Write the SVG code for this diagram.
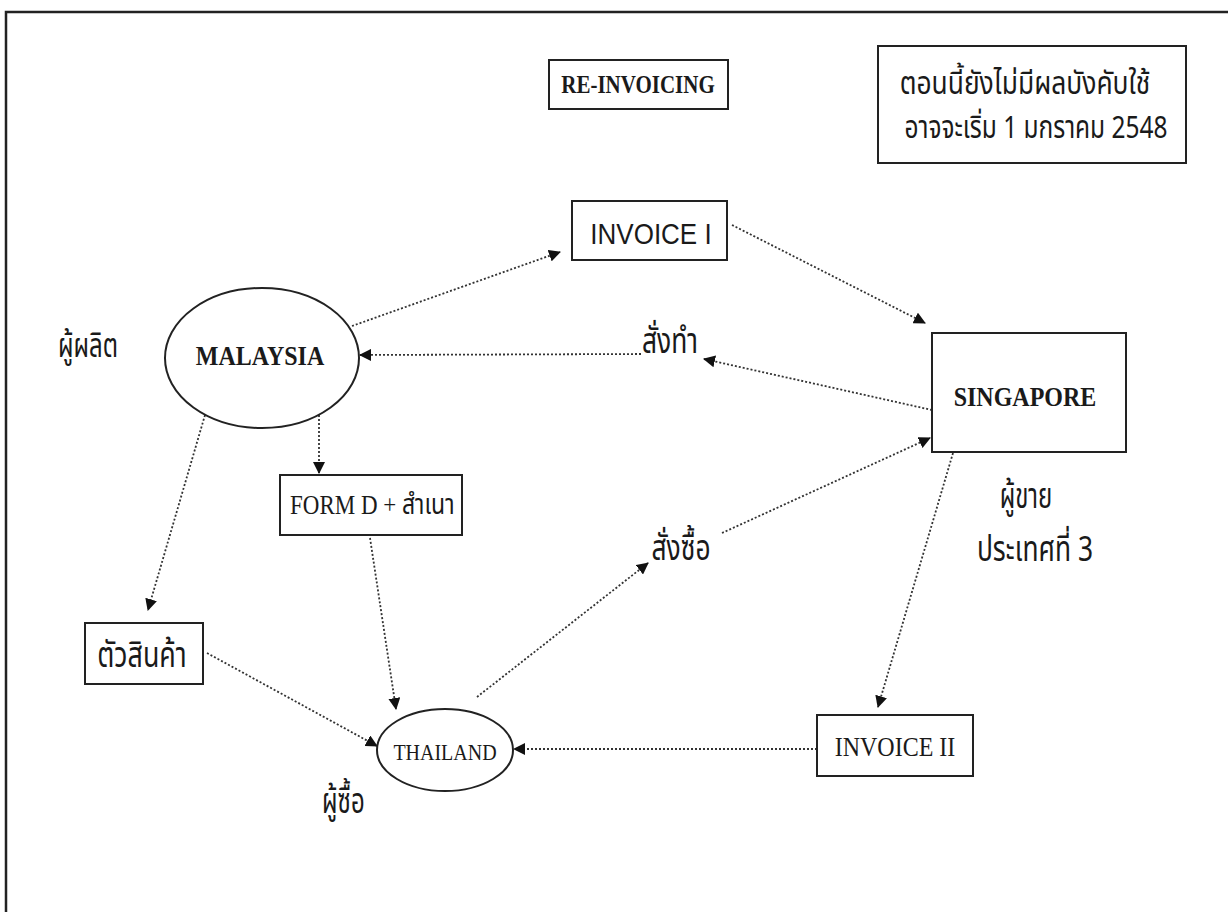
<svg xmlns="http://www.w3.org/2000/svg" width="1232" height="912" viewBox="0 0 1232 912">
  <style>
    .frame { fill: none; stroke: #222; stroke-width: 2.5; }
    .box { fill: #fff; stroke: #222; stroke-width: 2; }
    .link { fill: none; stroke: #333; stroke-width: 1.8; stroke-dasharray: 2 2; }
    .serif { font-family: "Liberation Serif", "Times New Roman", serif; fill: #1a1a1a; }
    .bold { font-weight: bold; }
    .sans { font-family: "Liberation Sans", Arial, sans-serif; fill: #1a1a1a; }
    .thai { font-family: "Noto Sans Thai", "Loma", "Garuda", "Norasi", "Noto Sans", "DejaVu Sans", sans-serif; fill: #1a1a1a; }
    .mid { text-anchor: middle; }
  </style>
  <defs>
    <marker id="arrow" viewBox="0 0 12 12" refX="11" refY="6" markerWidth="12" markerHeight="12" markerUnits="userSpaceOnUse" orient="auto">
      <path d="M0,0 L12,6 L0,12 Z" fill="#111"/>
    </marker>
  </defs>

  <rect width="1232" height="912" fill="#fff"/>
  <!-- page border: top and left edges -->
  <path class="frame" d="M6,912 V12 H1228"/>

  <g id="title">
    <rect class="box" x="549" y="60" width="179" height="49"/>
    <text class="serif bold mid" transform="translate(638,93) scale(1,1.15)" font-size="21">RE-INVOICING</text>
  </g>

  <g id="note">
    <rect class="box" x="878" y="46" width="308" height="117"/>
    <text class="thai mid" transform="translate(1025,94) scale(1.1,1.3)" font-size="24">ตอนนี้ยังไม่มีผลบังคับใช้</text>
    <text class="thai mid" transform="translate(1036,138) scale(1.02,1.3)" font-size="24">อาจจะเริ่ม 1 มกราคม 2548</text>
  </g>

  <g id="connectors">
    <!-- Malaysia -> Invoice I -->
    <line class="link" x1="352" y1="326" x2="560" y2="252" marker-end="url(#arrow)"/>
    <!-- Invoice I -> Singapore -->
    <line class="link" x1="732" y1="225" x2="925" y2="323" marker-end="url(#arrow)"/>
    <!-- order to manufacture -> Malaysia -->
    <line class="link" x1="641" y1="354" x2="360" y2="355" marker-end="url(#arrow)"/>
    <!-- Singapore -> order to manufacture -->
    <line class="link" x1="932" y1="410" x2="704" y2="359" marker-end="url(#arrow)"/>
    <!-- Malaysia -> Form D -->
    <line class="link" x1="319" y1="411" x2="319" y2="473" marker-end="url(#arrow)"/>
    <!-- Malaysia -> goods -->
    <line class="link" x1="205" y1="415" x2="148" y2="610" marker-end="url(#arrow)"/>
    <!-- goods -> Thailand -->
    <line class="link" x1="207" y1="653" x2="377" y2="746" marker-end="url(#arrow)"/>
    <!-- Form D -> Thailand -->
    <line class="link" x1="370" y1="538" x2="396" y2="709" marker-end="url(#arrow)"/>
    <!-- Thailand -> purchase order -->
    <line class="link" x1="477" y1="697" x2="648" y2="563" marker-end="url(#arrow)"/>
    <!-- purchase order -> Singapore -->
    <line class="link" x1="722" y1="533" x2="930" y2="438" marker-end="url(#arrow)"/>
    <!-- Singapore -> Invoice II -->
    <line class="link" x1="953" y1="453" x2="878" y2="707" marker-end="url(#arrow)"/>
    <!-- Invoice II -> Thailand -->
    <line class="link" x1="817" y1="749" x2="514" y2="749" marker-end="url(#arrow)"/>
  </g>

  <g id="malaysia">
    <ellipse class="box" cx="262" cy="358" rx="97" ry="70"/>
    <text class="serif bold mid" transform="translate(260,365) scale(1,1.1)" font-size="24">MALAYSIA</text>
  </g>
  <g id="producer">
    <text class="thai" transform="translate(58,357) scale(1,1.4)" font-size="24">ผู้ผลิต</text>
  </g>

  <g id="invoice-1">
    <rect class="box" x="572" y="201" width="155" height="59"/>
    <text class="sans mid" transform="translate(651,244) scale(1,1.15)" font-size="26">INVOICE I</text>
  </g>

  <g id="order-make">
    <text class="thai" transform="translate(642,353) scale(1.1,1.45)" font-size="24">สั่งทำ</text>
  </g>

  <g id="singapore">
    <rect class="box" x="932" y="333" width="194" height="119"/>
    <text class="serif bold mid" transform="translate(1025,406) scale(1,1.1)" font-size="24">SINGAPORE</text>
  </g>
  <g id="seller">
    <text class="thai mid" transform="translate(1026,508) scale(1,1.45)" font-size="24">ผู้ขาย</text>
    <text class="thai mid" transform="translate(1035,561) scale(1.1,1.45)" font-size="24">ประเทศที่ 3</text>
  </g>

  <g id="form-d">
    <rect class="box" x="280" y="475" width="182" height="60"/>
    <text class="serif" transform="translate(290,514) scale(1,1.2)" font-size="23">FORM D + <tspan class="thai">สำเนา</tspan></text>
  </g>

  <g id="goods">
    <rect class="box" x="85" y="623" width="118" height="61"/>
    <text class="thai mid" transform="translate(142,667) scale(1.12,1.5)" font-size="24">ตัวสินค้า</text>
  </g>

  <g id="order-buy">
    <text class="thai mid" transform="translate(681,560) scale(1.1,1.45)" font-size="24">สั่งซื้อ</text>
  </g>

  <g id="thailand">
    <ellipse class="box" cx="445" cy="750" rx="68" ry="41"/>
    <text class="serif mid" transform="translate(445,760) scale(1,1.2)" font-size="20">THAILAND</text>
  </g>
  <g id="buyer">
    <text class="thai" transform="translate(322,813) scale(1,1.45)" font-size="24">ผู้ซื้อ</text>
  </g>

  <g id="invoice-2">
    <rect class="box" x="817" y="715" width="156" height="61"/>
    <text class="serif mid" transform="translate(895,756) scale(1,1.15)" font-size="24">INVOICE II</text>
  </g>
</svg>
